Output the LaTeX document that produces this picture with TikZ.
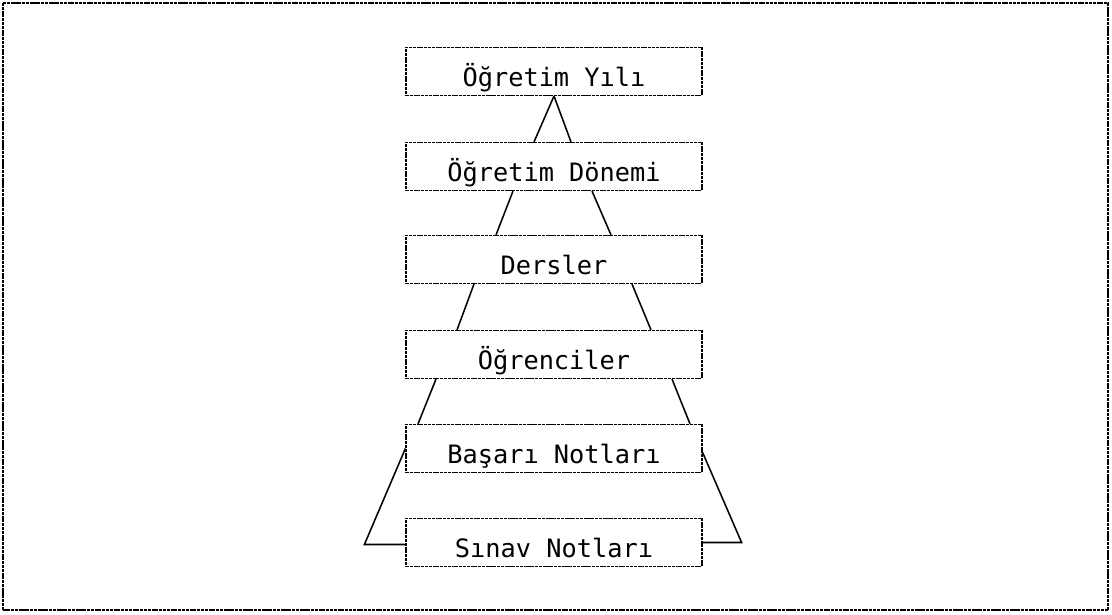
\documentclass[tikz,border=0pt]{standalone}
\usepackage{fontspec}
\setmonofont{DejaVu Sans Mono}
\usetikzlibrary{calc}
\tikzset{
  level/.style={shape=rectangle, draw=black, line width=0.8pt, dash pattern=on 2.2pt off 0.5pt,
    minimum width=7.4cm, minimum height=1.2cm, inner sep=0pt,
    text height=0.75cm, text depth=0pt, font=\ttfamily\fontsize{18}{20}\selectfont},
  link/.style={-, line width=1.1pt, draw=black}
}
\begin{document}
\begin{tikzpicture}[x=0.025cm, y=-0.025cm]
\useasboundingbox (0,0) rectangle (1112,615);
\draw[line width=0.8pt, dash pattern=on 2.2pt off 0.5pt] (3,3) rectangle (1108,610);
\node[level] (yil) at (554, 71.5) {Öğretim Yılı};
\node[level] (donem) at (554, 166.5) {Öğretim Dönemi};
\node[level] (ders) at (554, 259.5) {Dersler};
\node[level] (ogr) at (554, 354.5) {Öğrenciler};
\node[level] (basari) at (554, 448.5) {Başarı Notları};
\node[level] (sinav) at (554, 542.5) {Sınav Notları};
\coordinate (lc) at ($(sinav.west)+(-41,2)$);
\coordinate (rc) at ($(sinav.east)+(39,0)$);
\path [link] (yil.south) edge ($(donem.north)+(-20,0)$);
\path [link] (yil.south) edge ($(donem.north)+(17,0)$);
\path [link] ($(donem.south)+(-41,0)$) edge ($(ders.north)+(-58,0)$);
\path [link] ($(donem.south)+(38,0)$) edge ($(ders.north)+(57,0)$);
\path [link] ($(ders.south)+(-80,0)$) edge ($(ogr.north)+(-97,0)$);
\path [link] ($(ders.south)+(78,0)$) edge ($(ogr.north)+(97,0)$);
\path [link] ($(ogr.south)+(-118,0)$) edge ($(basari.north)+(-136,0)$);
\path [link] ($(ogr.south)+(118,0)$) edge ($(basari.north)+(136,0)$);
\draw [link] (basari.west) -- (lc) -- (sinav.west |- lc);
\draw [link] ($(basari.east)+(0,4)$) -- (rc) -- (sinav.east);
\end{tikzpicture}
\end{document}
